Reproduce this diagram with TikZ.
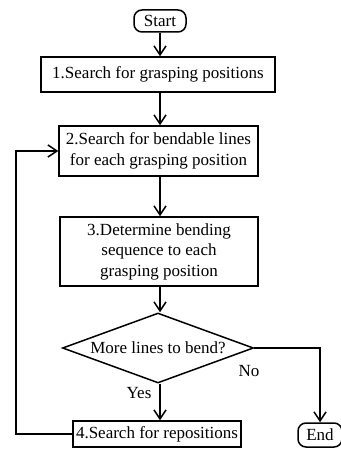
\documentclass[tikz,border=0pt]{standalone}
\usepackage{fontspec}
\setmainfont{Liberation Serif}
\usetikzlibrary{arrows.meta,shapes.geometric}
\tikzset{
  flowline/.style={line width=1.5pt,-{Straight Barb[length=9pt,width=12pt,line width=1.5pt]}},
  boxtext/.style={font=\fontsize{17}{20.5}\selectfont},
  terminal/.style={draw,line width=1.5pt,rounded corners=8pt,inner sep=0pt,boxtext},
  process/.style={draw,line width=1.5pt,inner sep=0pt,align=center,boxtext},
  decision/.style={draw,diamond,line width=1.5pt,inner sep=0pt,boxtext,
    shape aspect=2.73,minimum width=191pt,minimum height=70pt}
}
\begin{document}
\begin{tikzpicture}[x=1pt,y=-1pt]
  \useasboundingbox (0,0) rectangle (340,449);
  \node[terminal,minimum width=52pt,minimum height=22pt] (start) at (160,21) {Start};
  \node[process,minimum width=234pt,minimum height=35pt] (s1) at (158,74.5)
    {1.Search for grasping positions};
  \node[process,minimum width=199pt,minimum height=50pt] (s2) at (158.5,151)
    {2.Search for bendable lines\\for each grasping position};
  \node[process,minimum width=198pt,minimum height=69pt] (s3) at (159,251.5)
    {3.Determine bending\\sequence to each\\grasping position};
  \node[decision] (more) at (158,348) {More lines to bend?};
  \node[process,minimum width=168pt,minimum height=26pt] (s4) at (157,434)
    {4.Search for repositions};
  \node[terminal,minimum width=44pt,minimum height=24pt] (end) at (320,435) {End};
  \node[boxtext] (no) at (249,371) {No};
  \node[boxtext] (yes) at (139,393) {Yes};
  \coordinate (back) at (16,434);
  \draw[flowline] (start.south) -- (start.south |- s1.north);
  \draw[flowline] (start.south |- s1.south) -- (start.south |- s2.north);
  \draw[flowline] (start.south |- s2.south) -- (start.south |- s3.north);
  \draw[flowline] (start.south |- s3.south) -- (start.south |- more.north);
  \draw[flowline] (start.south |- more.south) -- (start.south |- s4.north);
  \draw[flowline] (more.east) -| (end.north);
  \draw[flowline] (s4.west) -- (back) |- (s2.west);
\end{tikzpicture}
\end{document}
